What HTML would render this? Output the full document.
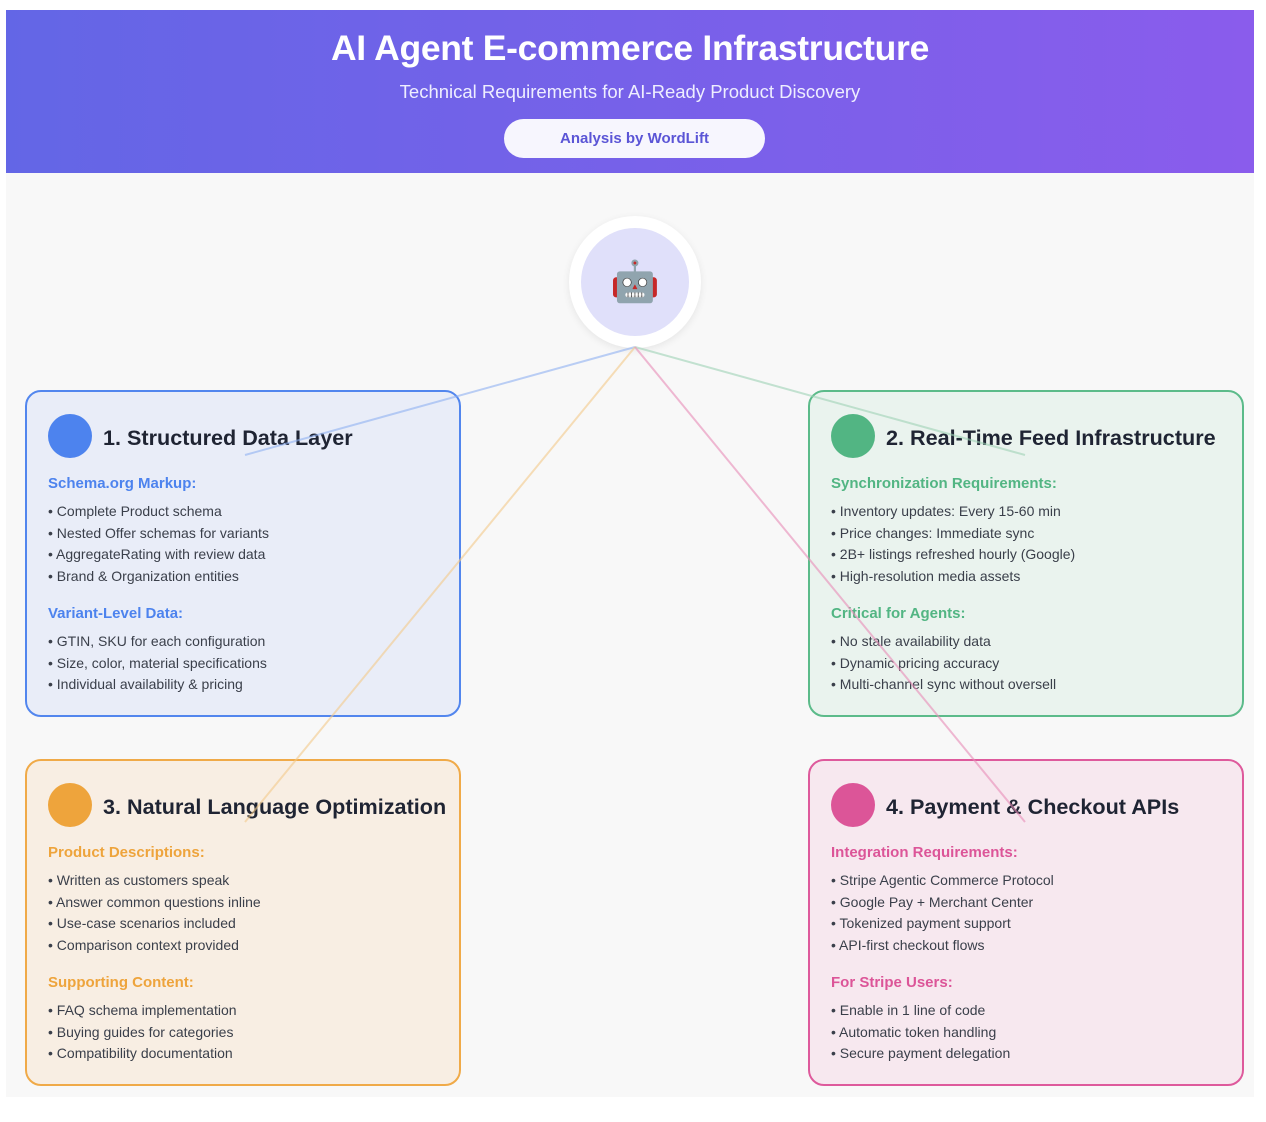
<!DOCTYPE html>
<html><head><meta charset="utf-8"><style>
*{margin:0;padding:0;box-sizing:border-box}
body{width:1266px;height:1122px;background:#fff;font-family:"Liberation Sans",Arial,sans-serif;position:relative;overflow:hidden}
.hdr{position:absolute;left:6px;top:10px;width:1248px;height:163px;background:linear-gradient(90deg,#6366e6,#8a5cec);text-align:center;color:#fff}
.hdr h1{position:absolute;top:18px;width:100%;font-size:35.5px;font-weight:bold;letter-spacing:-0.3px}
.hdr .sub{position:absolute;top:71px;width:100%;font-size:18.5px;color:#eef}
.pill{position:absolute;left:498px;top:109px;width:261px;height:39px;background:#f7f6fe;border-radius:20px;color:#5b55d6;font-weight:bold;font-size:15px;line-height:39px}
.main{position:absolute;left:6px;top:173px;width:1248px;height:924px;background:#f8f8f8}
.hub{position:absolute;left:569px;top:216px;width:132px;height:132px;border-radius:50%;background:#fff;box-shadow:0 2px 8px rgba(0,0,0,.08)}
.hub div{position:absolute;left:12px;top:12px;width:108px;height:108px;border-radius:50%;background:#e0e0fa;text-align:center;line-height:108px;font-size:40px}
.box{position:absolute;width:436px;height:327px;border:2px solid;border-radius:16px}
.box .dot{position:absolute;left:21px;top:22px;width:44px;height:44px;border-radius:50%}
.box h2{position:absolute;left:76px;top:33px;font-size:21.6px;color:#1f2433;font-weight:bold;white-space:nowrap}
.box h3{position:absolute;left:21px;font-size:15px;font-weight:bold}
.box ul{position:absolute;left:21px;list-style:none;font-size:14px;color:#3a3f4a;line-height:21.7px}
</style></head><body>
<div class="hdr"><h1>AI Agent E-commerce Infrastructure</h1><div class="sub">Technical Requirements for AI-Ready Product Discovery</div><div class="pill">Analysis by WordLift</div></div>
<div class="main"></div>
<div class="hub"><div>🤖</div></div>

<div class="box" style="left:25px;top:390px;border-color:#5286ee;background:#e9edf8">
<div class="dot" style="background:#4d83ee"></div><h2>1. Structured Data Layer</h2>
<h3 style="top:83px;color:#4d83ee">Schema.org Markup:</h3>
<ul style="top:109px"><li>• Complete Product schema</li><li>• Nested Offer schemas for variants</li><li>• AggregateRating with review data</li><li>• Brand &amp; Organization entities</li></ul>
<h3 style="top:213px;color:#4d83ee">Variant-Level Data:</h3>
<ul style="top:239px"><li>• GTIN, SKU for each configuration</li><li>• Size, color, material specifications</li><li>• Individual availability &amp; pricing</li></ul></div>

<div class="box" style="left:808px;top:390px;border-color:#5cbb8a;background:#eaf3ee">
<div class="dot" style="background:#52b583"></div><h2>2. Real-Time Feed Infrastructure</h2>
<h3 style="top:83px;color:#52b583">Synchronization Requirements:</h3>
<ul style="top:109px"><li>• Inventory updates: Every 15-60 min</li><li>• Price changes: Immediate sync</li><li>• 2B+ listings refreshed hourly (Google)</li><li>• High-resolution media assets</li></ul>
<h3 style="top:213px;color:#52b583">Critical for Agents:</h3>
<ul style="top:239px"><li>• No stale availability data</li><li>• Dynamic pricing accuracy</li><li>• Multi-channel sync without oversell</li></ul></div>

<div class="box" style="left:25px;top:759px;border-color:#f0aa48;background:#f8eee3">
<div class="dot" style="background:#eea43c"></div><h2>3. Natural Language Optimization</h2>
<h3 style="top:83px;color:#eea43c">Product Descriptions:</h3>
<ul style="top:109px"><li>• Written as customers speak</li><li>• Answer common questions inline</li><li>• Use-case scenarios included</li><li>• Comparison context provided</li></ul>
<h3 style="top:213px;color:#eea43c">Supporting Content:</h3>
<ul style="top:239px"><li>• FAQ schema implementation</li><li>• Buying guides for categories</li><li>• Compatibility documentation</li></ul></div>

<div class="box" style="left:808px;top:759px;border-color:#de5a9c;background:#f7e8ef">
<div class="dot" style="background:#dc5598"></div><h2>4. Payment &amp; Checkout APIs</h2>
<h3 style="top:83px;color:#dc5598">Integration Requirements:</h3>
<ul style="top:109px"><li>• Stripe Agentic Commerce Protocol</li><li>• Google Pay + Merchant Center</li><li>• Tokenized payment support</li><li>• API-first checkout flows</li></ul>
<h3 style="top:213px;color:#dc5598">For Stripe Users:</h3>
<ul style="top:239px"><li>• Enable in 1 line of code</li><li>• Automatic token handling</li><li>• Secure payment delegation</li></ul></div>

<svg width="1266" height="1122" style="position:absolute;left:0;top:0" fill="none" stroke-width="2">
<line x1="635" y1="347" x2="245" y2="455" stroke="#8fb0f2" opacity=".6"/>
<line x1="635" y1="347" x2="1025" y2="455" stroke="#9ed2b5" opacity=".6"/>
<line x1="635" y1="347" x2="245" y2="822" stroke="#f3c98a" opacity=".6"/>
<line x1="635" y1="347" x2="1025" y2="822" stroke="#e88cb8" opacity=".6"/>
</svg>
</body></html>
